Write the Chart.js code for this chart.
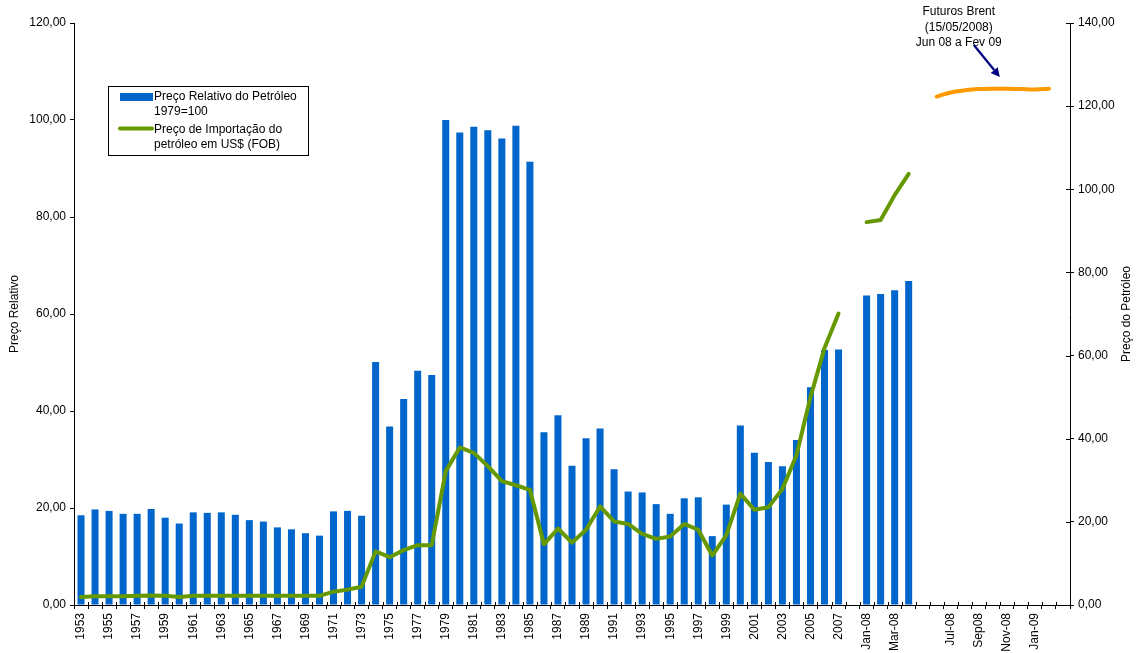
<!DOCTYPE html>
<html>
<head>
<meta charset="utf-8">
<script src="https://cdn.jsdelivr.net/npm/chart.js@4/dist/chart.umd.min.js"></script>
<style>
html,body{margin:0;padding:0;background:#fff;}
#wrap{width:1136px;height:653px;position:relative;}
</style>
</head>
<body>
<div id="wrap"><canvas id="c"></canvas></div>
<script>
// ---- DATA ----
const categories = [
 '1953','1954','1955','1956','1957','1958','1959','1960','1961','1962',
 '1963','1964','1965','1966','1967','1968','1969','1970','1971','1972',
 '1973','1974','1975','1976','1977','1978','1979','1980','1981','1982',
 '1983','1984','1985','1986','1987','1988','1989','1990','1991','1992',
 '1993','1994','1995','1996','1997','1998','1999','2000','2001','2002',
 '2003','2004','2005','2006','2007','',
 'Jan-08','Feb-08','Mar-08','Apr-08','May-08','Jun-08','Jul-08','Aug-08','Sep-08','Oct-08','Nov-08','Dec-08','Jan-09','Feb-09',''
];
const xTickLabels = [
 '1953','','1955','','1957','','1959','','1961','',
 '1963','','1965','','1967','','1969','','1971','',
 '1973','','1975','','1977','','1979','','1981','',
 '1983','','1985','','1987','','1989','','1991','',
 '1993','','1995','','1997','','1999','','2001','',
 '2003','','2005','','2007','',
 'Jan-08','','Mar-08','','','','Jul-08','','Sep08','','Nov-08','','Jan-09','',''
];
// Preço Relativo do Petróleo 1979=100 (left axis)
const relPrice = [
 18.5,19.7,19.4,18.8,18.8,19.8,18.0,16.8,19.1,19.0,
 19.1,18.6,17.5,17.2,16.0,15.6,14.8,14.3,19.3,19.4,
 18.4,50.1,36.8,42.5,48.3,47.4,100.0,97.4,98.6,97.9,
 96.2,98.8,91.4,35.6,39.1,28.7,34.4,36.4,28.0,23.4,
 23.2,20.8,18.8,22.0,22.2,14.2,20.7,37.0,31.4,29.5,
 28.6,34.0,44.9,52.6,52.7,null,
 63.8,64.1,64.9,66.8,null,null,null,null,null,null,null,null,null,null,null
];
// Preço de Importação do petróleo em US$ (FOB) (right axis)
const importPrice = [
 1.9,2.1,2.1,2.1,2.2,2.3,2.2,1.9,2.2,2.2,
 2.2,2.2,2.2,2.2,2.2,2.2,2.2,2.2,3.2,3.7,
 4.4,12.9,11.5,13.2,14.4,14.4,32.2,37.9,36.6,33.4,
 29.8,28.8,27.7,14.6,18.4,15.0,18.1,23.7,20.1,19.5,
 17.1,15.9,16.5,19.5,18.1,11.9,16.8,26.8,22.9,23.5,
 27.9,36.0,50.0,61.8,70.1,null,
 92.1,92.6,98.6,103.7,null,null,null,null,null,null,null,null,null,null,null
];
// Futuros Brent (15/05/2008), Jun 08 a Fev 09 (right axis)
const brentFutures = [
 null,null,null,null,null,null,null,null,null,null,
 null,null,null,null,null,null,null,null,null,null,
 null,null,null,null,null,null,null,null,null,null,
 null,null,null,null,null,null,null,null,null,null,
 null,null,null,null,null,null,null,null,null,null,
 null,null,null,null,null,null,
 null,null,null,null,null,122.3,123.3,123.8,124.1,124.2,124.2,124.1,124.0,124.2,null
];
const leftTicks = [0,20,40,60,80,100,120];
const rightTicks = [0,20,40,60,80,100,120,140];
const annotationLines = ['Futuros Brent','(15/05/2008)','Jun 08 a Fev 09'];
const legendItems = [
  {type:'bar', lines:['Preço Relativo do Petróleo','1979=100']},
  {type:'line', lines:['Preço de Importação do','petróleo em US$ (FOB)']}
];

// ---- STYLE ----
const FONT = '"Liberation Sans", Arial, sans-serif';
const FS = 12;
const BLUE = '#0066CC', GREEN = '#669900', ORANGE = '#FF9900', NAVY = '#000080';
const fmt = v => v.toFixed(2).replace('.', ',');

const extras = {
  id: 'extras',
  afterDraw(chart) {
    const ctx = chart.ctx;
    const x = chart.scales.x, y2 = chart.scales.y2;
    const area = chart.chartArea;
    ctx.save();
    // inner halves of cross tick marks (x axis and right axis)
    ctx.strokeStyle = '#000'; ctx.lineWidth = 1;
    ctx.beginPath();
    const n = categories.length;
    for (let i = 0; i <= n; i++) {
      const px = Math.round(x.getPixelForValue(i - 0.5)) + 0.5;
      ctx.moveTo(px, area.bottom); ctx.lineTo(px, area.bottom - 3);
    }
    rightTicks.forEach(v => {
      const py = Math.round(y2.getPixelForValue(v)) + 0.5;
      ctx.moveTo(area.right, py); ctx.lineTo(area.right - 4, py);
    });
    ctx.stroke();

    // axis titles
    ctx.fillStyle = '#000';
    ctx.font = FS + 'px ' + FONT;
    ctx.textAlign = 'center'; ctx.textBaseline = 'middle';
    const cy = (area.top + area.bottom) / 2;
    ctx.save(); ctx.translate(15, cy); ctx.rotate(-Math.PI/2); ctx.fillText('Preço Relativo', 0, 0); ctx.restore();
    ctx.save(); ctx.translate(1127, cy); ctx.rotate(-Math.PI/2); ctx.fillText('Preço do Petróleo', 0, 0); ctx.restore();

    // legend
    const lx = 108, ly = 86, lw = 200, lh = 69;
    ctx.strokeStyle = '#000'; ctx.lineWidth = 1;
    ctx.strokeRect(lx + 0.5, ly + 0.5, lw, lh);
    ctx.textAlign = 'left'; ctx.textBaseline = 'middle';
    // item 1
    ctx.fillStyle = BLUE;
    ctx.fillRect(120, 93, 33, 8);
    ctx.fillStyle = '#000';
    ctx.fillText(legendItems[0].lines[0], 154, 97);
    ctx.fillText(legendItems[0].lines[1], 154, 112);
    // item 2
    ctx.strokeStyle = GREEN; ctx.lineWidth = 4; ctx.lineCap = 'round';
    ctx.beginPath(); ctx.moveTo(120, 128.5); ctx.lineTo(152, 128.5); ctx.stroke();
    ctx.fillStyle = '#000';
    ctx.fillText(legendItems[1].lines[0], 154, 130);
    ctx.fillText(legendItems[1].lines[1], 154, 145);

    // annotation
    const ax = x.getPixelForValue(categories.indexOf('Jul-08')) + 8;
    ctx.textAlign = 'center';
    annotationLines.forEach((t, i) => ctx.fillText(t, ax, 12 + i * 15.5));
    // arrow
    const sx = x.getPixelForValue(categories.indexOf('Sep-08')) - 5;
    const sy = y2.getPixelForValue(134.7);
    const tx = x.getPixelForValue(categories.indexOf('Oct-08')) + 7;
    const ty = y2.getPixelForValue(127.0);
    const ang = Math.atan2(ty - sy, tx - sx);
    const hl = 9, hw = 4.5;
    const bx = tx - hl * Math.cos(ang), by = ty - hl * Math.sin(ang);
    ctx.strokeStyle = NAVY; ctx.lineWidth = 2.2; ctx.lineCap = 'butt';
    ctx.beginPath(); ctx.moveTo(sx, sy); ctx.lineTo(bx, by); ctx.stroke();
    ctx.fillStyle = NAVY;
    ctx.beginPath();
    ctx.moveTo(tx, ty);
    ctx.lineTo(bx + hw * Math.sin(ang), by - hw * Math.cos(ang));
    ctx.lineTo(bx - hw * Math.sin(ang), by + hw * Math.cos(ang));
    ctx.closePath(); ctx.fill();
    ctx.restore();
  }
};

new Chart(document.getElementById('c'), {
  data: {
    labels: categories,
    datasets: [
      {type:'line', label:'Preço de Importação do petróleo em US$ (FOB)', data: importPrice, yAxisID:'y2',
       borderColor: GREEN, borderWidth: 4, pointRadius: 0, tension: 0, spanGaps: false,
       borderCapStyle:'round', borderJoinStyle:'round', order: 1},
      {type:'line', label:'Futuros Brent', data: brentFutures, yAxisID:'y2',
       borderColor: ORANGE, borderWidth: 4, pointRadius: 0, tension: 0.4, spanGaps: false,
       borderCapStyle:'round', borderJoinStyle:'round', order: 1},
      {type:'bar', label:'Preço Relativo do Petróleo 1979=100', data: relPrice, yAxisID:'y',
       backgroundColor: BLUE, borderWidth: 0, categoryPercentage: 1, barPercentage: 0.5, order: 2}
    ]
  },
  options: {
    responsive: true, maintainAspectRatio: false, animation: false, devicePixelRatio: 1,
    layout: {padding: {top: 23, left: 0, right: 0, bottom: 0}},
    plugins: {legend: {display: false}, tooltip: {enabled: false}},
    scales: {
      x: {
        type: 'category', offset: true,
        grid: {display: true, drawOnChartArea: false, drawTicks: true, tickLength: 4, color: '#000', offset: true},
        border: {display: true, color: '#000', width: 1},
        ticks: {autoSkip: false, minRotation: 90, maxRotation: 90, padding: 4, color: '#000',
                font: {family: FONT, size: FS},
                callback: (v, i) => xTickLabels[i]},
        afterFit: s => { s.height = 48; }
      },
      y: {
        position: 'left', min: 0, max: 120,
        afterBuildTicks: s => { s.ticks = leftTicks.map(v => ({value: v})); },
        grid: {display: true, drawOnChartArea: false, drawTicks: true, tickLength: 4, color: '#000'},
        border: {display: true, color: '#000', width: 1},
        ticks: {padding: 4, color: '#000', font: {family: FONT, size: FS}, callback: v => fmt(v)},
        afterFit: s => { s.width = 74; }
      },
      y2: {
        position: 'right', min: 0, max: 140,
        afterBuildTicks: s => { s.ticks = rightTicks.map(v => ({value: v})); },
        grid: {display: true, drawOnChartArea: false, drawTicks: true, tickLength: 4, color: '#000'},
        border: {display: true, color: '#000', width: 1},
        ticks: {padding: 4, color: '#000', font: {family: FONT, size: FS}, callback: v => fmt(v)},
        afterFit: s => { s.width = 66; }
      }
    }
  },
  plugins: [extras]
});
</script>
</body>
</html>
